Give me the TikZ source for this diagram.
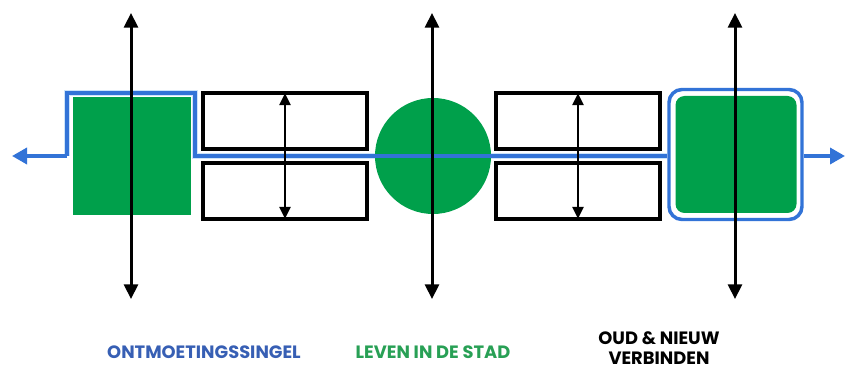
\documentclass[tikz,border=0pt]{standalone}
\usepackage{fontspec}
\setmainfont{Poppins}
\usetikzlibrary{arrows.meta,calc}
\definecolor{vgreen}{RGB}{0,160,75}
\definecolor{vblue}{RGB}{50,115,215}
\definecolor{vhalo}{RGB}{205,228,250}
\definecolor{tblue}{RGB}{55,95,180}
\definecolor{tgreen}{RGB}{40,160,85}
\newlength\pxu
\setlength\pxu{0.75pt}
\begin{document}
\begin{tikzpicture}[x=0.75pt,y=-0.75pt,
  greenbox/.style={fill=vgreen, draw=none, inner sep=0pt},
  slot/.style={draw=black, line width=2.8pt, fill=white, inner sep=0pt, minimum width=164\pxu, minimum height=56\pxu},
  bigarrow/.style={draw=black, line width=2.25pt, {Triangle[width=10.5pt,length=11pt]}-{Triangle[width=10.5pt,length=11pt]}},
  smallarrow/.style={draw=black, line width=1.65pt, {Triangle[width=8.25pt,length=9pt]}-{Triangle[width=8.25pt,length=9pt]}},
  halo/.style={draw=vhalo, line width=4.6pt},
  route/.style={draw=vblue, line width=2.6pt},
  routetip/.style={route, -{Triangle[width=12pt,length=11.25pt]}},
  lbl/.style={font=\bfseries\fontsize{13.4}{15.5}\selectfont, inner sep=0pt, align=center}
]
\useasboundingbox (0,0) rectangle (847,370);
% left green square
\node[greenbox, minimum width=118\pxu, minimum height=118\pxu] (gl) at (132,156) {};
% slots
\node[slot] (s1) at (285,121) {};
\node[slot] (s2) at (285,191) {};
\node[slot] (s3) at (578,121) {};
\node[slot] (s4) at (578,191) {};
% right rounded box
\node[draw=vblue, line width=2.6pt, fill=white, rounded corners=9.75pt, inner sep=0pt, minimum width=133\pxu, minimum height=130\pxu] (rb) at (735.5,154.5) {};
\node[greenbox, rounded corners=6.75pt, minimum width=121\pxu, minimum height=117\pxu] (gr) at (736,154.5) {};
% coordinates
\coordinate (lt) at (12,156);
\coordinate (l0) at (67,156);
\coordinate (l1) at (67,93);
\coordinate (l2) at (195,93);
\coordinate (l3) at (195,156);
\coordinate (rt) at (845,156);
% halo under the route
\draw[halo] (l0) -- (l1) -- (l2) -- (l3) -- (rb.west |- l3);
% circle
\node[circle, fill=vgreen, inner sep=0pt, minimum size=116\pxu] (ci) at (433,156) {};
% blue route
\draw[route] (l0) -- (l1) -- (l2) -- (l3) -- (rb.west |- l3);
\draw[routetip] (l0) -- (lt);
\draw[routetip] (rb.east |- l3) -- (rt);
% vertical arrows
\coordinate (a1t) at (131,13); \coordinate (a1b) at (131,299);
\coordinate (a2t) at (432,13); \coordinate (a2b) at (432,299);
\coordinate (a3t) at (735,13); \coordinate (a3b) at (735,299);
\draw[bigarrow] (a1t) -- (a1b);
\draw[bigarrow] (a2t) -- (a2b);
\draw[bigarrow] (a3t) -- (a3b);
\coordinate (b1t) at ($(s1.north)+(0,2)$); \coordinate (b1b) at ($(s2.south)+(0,-2)$);
\coordinate (b2t) at ($(s3.north)+(0,2)$); \coordinate (b2b) at ($(s4.south)+(0,-2)$);
\draw[smallarrow] (b1t) -- (b1b);
\draw[smallarrow] (b2t) -- (b2b);
% labels
\node[lbl, text=tblue] (t1) at (204,352) {ONTMOETINGSSINGEL};
\node[lbl, text=tgreen] (t2) at (433,352) {LEVEN IN DE STAD};
\node[lbl, text=black] (t3) at (659,348) {OUD \& NIEUW\\VERBINDEN};
\end{tikzpicture}
\end{document}
